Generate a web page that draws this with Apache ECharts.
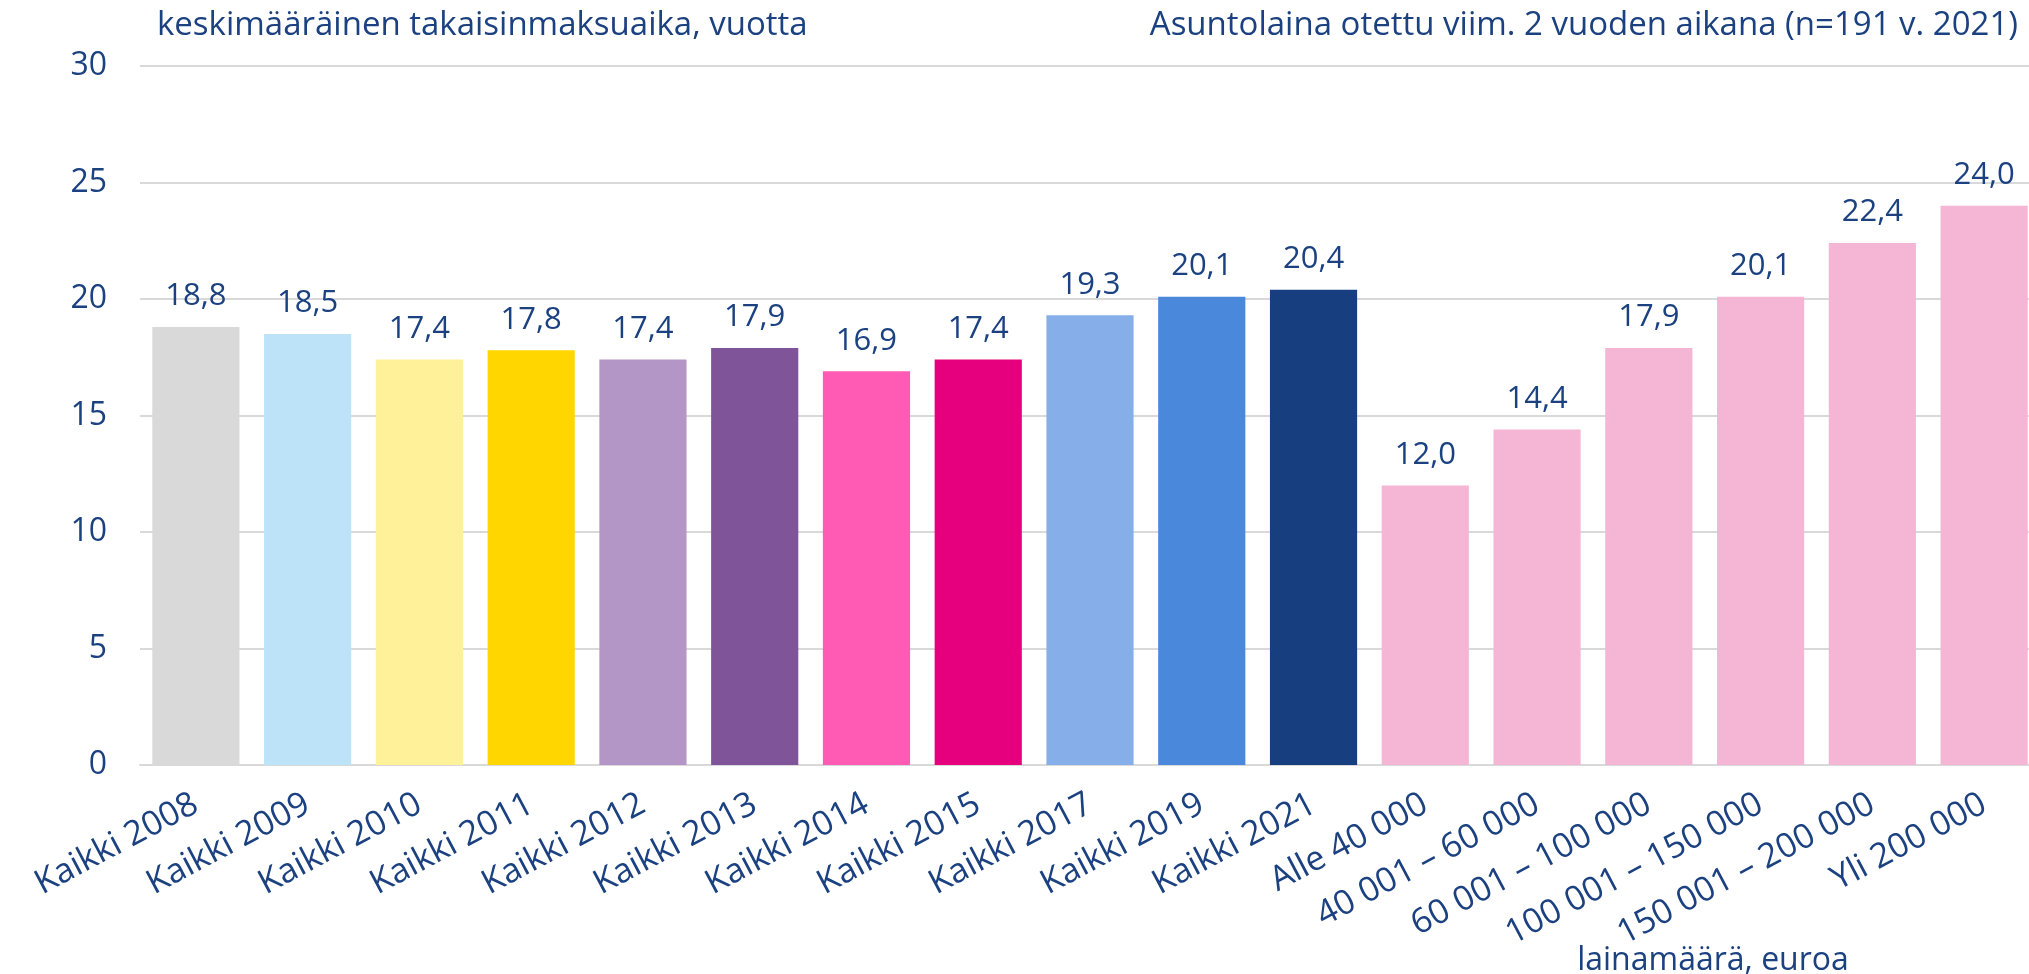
<!DOCTYPE html>
<html>
<head>
<meta charset="utf-8">
<script src="https://cdn.jsdelivr.net/npm/echarts@6/dist/echarts.min.js"></script>
<style>
  html, body { margin: 0; padding: 0; background: #fff; overflow: hidden; }
  /* a bit wider than the window: the last bar is cut at the right edge */
  #chart { width: 2045px; height: 974px; }
</style>
</head>
<body>
<div id="chart"></div>
<script>
var TEXT_COLOR = "#1b4180";
var FONT = "Open Sans";

var categories = [
  "Kaikki 2008", "Kaikki 2009", "Kaikki 2010", "Kaikki 2011", "Kaikki 2012",
  "Kaikki 2013", "Kaikki 2014", "Kaikki 2015", "Kaikki 2017", "Kaikki 2019",
  "Kaikki 2021", "Alle 40 000", "40 001 – 60 000", "60 001 – 100 000",
  "100 001 – 150 000", "150 001 – 200 000", "Yli 200 000"
];
var values = [18.8, 18.5, 17.4, 17.8, 17.4, 17.9, 16.9, 17.4, 19.3, 20.1, 20.4,
  12.0, 14.4, 17.9, 20.1, 22.4, 24.0];
var barColors = [
  "#d9d9d9", "#bde3f8", "#fff09a", "#ffd600", "#b396c6", "#7f5499",
  "#ff5ab4", "#e6007e", "#86aee8", "#4a88dc", "#173f80",
  "#f4b6d4", "#f4b6d4", "#f4b6d4", "#f4b6d4", "#f4b6d4", "#f4b6d4"
];
var yTicks = { min: 0, max: 30, interval: 5 };

var chart = echarts.init(document.getElementById("chart"));

var titleStyle = { fontFamily: FONT, fontSize: 33, fontWeight: "normal", color: TEXT_COLOR };

var option = {
  backgroundColor: "#fff",
  animation: false,
  textStyle: { fontFamily: FONT, color: TEXT_COLOR },
  title: [
    { text: "keskimääräinen takaisinmaksuaika, vuotta", left: 152, top: 4, textStyle: titleStyle },
    { text: "Asuntolaina otettu viim. 2 vuoden aikana (n=191 v. 2021)", right: 22, top: 4, textStyle: titleStyle },
    {
      text: "lainamäärä, euroa",
      left: 1708,
      textAlign: "center",
      top: 940,
      textStyle: { fontFamily: FONT, fontSize: 32, fontWeight: "normal", color: TEXT_COLOR }
    }
  ],
  grid: { left: 140, width: 1900, top: 66, height: 699, containLabel: false },
  xAxis: {
    type: "category",
    data: categories,
    axisTick: { show: false },
    axisLine: { lineStyle: { color: "#d9d9d9", width: 2 } },
    axisLabel: {
      interval: 0,
      rotate: 28,
      margin: 37,
      fontFamily: FONT,
      fontSize: 34,
      color: TEXT_COLOR
    }
  },
  yAxis: {
    type: "value",
    min: yTicks.min,
    max: yTicks.max,
    interval: yTicks.interval,
    axisLine: { show: false },
    axisTick: { show: false },
    splitLine: { lineStyle: { color: "#d9d9d9", width: 2 } },
    axisLabel: { margin: 33, fontFamily: FONT, fontSize: 32, color: TEXT_COLOR }
  },
  series: [
    {
      type: "bar",
      barCategoryGap: "22%",
      data: values.map(function (v, i) {
        return { value: v, itemStyle: { color: barColors[i] } };
      }),
      label: {
        show: true,
        position: "top",
        distance: 15,
        fontFamily: FONT,
        fontSize: 31,
        color: TEXT_COLOR,
        formatter: function (p) {
          return p.value.toFixed(1).replace(".", ",");
        }
      }
    }
  ]
};

chart.setOption(option);
</script>
</body>
</html>
